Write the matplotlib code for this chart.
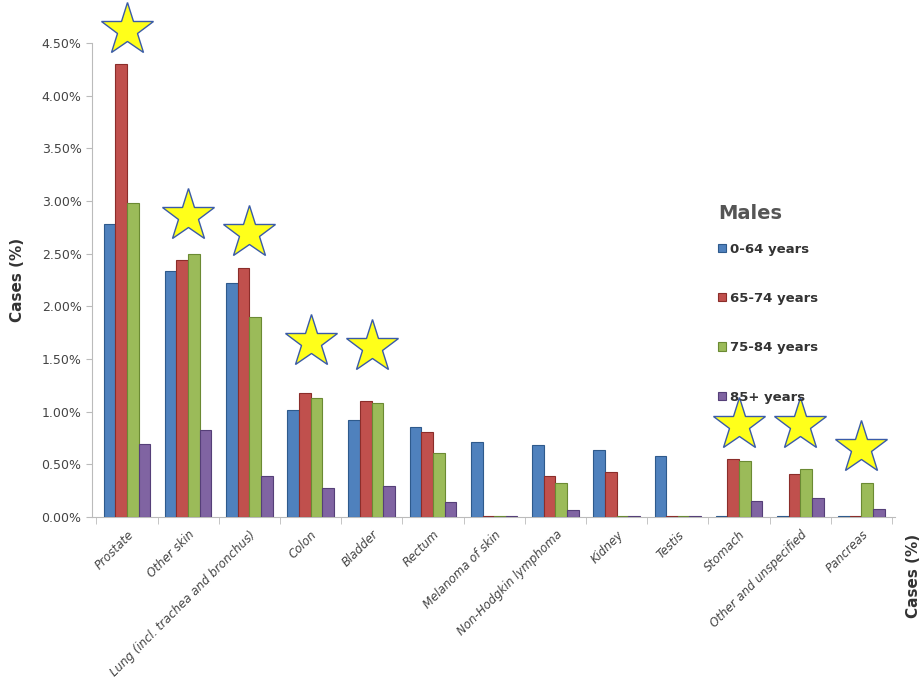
import matplotlib
matplotlib.use("Agg")
import matplotlib.pyplot as plt
import numpy as np
from matplotlib.ticker import FuncFormatter

# values (% of cases)
sites = ["Prostate", "Other skin", "Lung (incl. trachea and bronchus)", "Colon",
         "Bladder", "Rectum", "Melanoma of skin", "Non-Hodgkin lymphoma",
         "Kidney", "Testis", "Stomach", "Other and unspecified", "Pancreas"]
age_0_64 = [2.78, 2.34, 2.22, 1.02, 0.92, 0.85, 0.71, 0.68, 0.64, 0.58, 0.00, 0.00, 0.00]
age_65_74 = [4.30, 2.44, 2.36, 1.18, 1.10, 0.81, 0.00, 0.39, 0.43, 0.00, 0.55, 0.41, 0.00]
age_75_84 = [2.98, 2.50, 1.90, 1.13, 1.08, 0.61, 0.00, 0.32, 0.00, 0.00, 0.53, 0.46, 0.32]
age_85_up = [0.69, 0.83, 0.39, 0.28, 0.29, 0.14, 0.00, 0.07, 0.00, 0.00, 0.15, 0.18, 0.08]
series_labels = ["0-64 years", "65-74 years", "75-84 years", "85+ years"]

# stars mark the highlighted sites (index, level in %)
star_sites = [0, 1, 2, 3, 4, 10, 11, 12]
star_levels = [4.62, 2.86, 2.70, 1.66, 1.61, 0.87, 0.87, 0.66]

colors = ["#4F81BD", "#C0504D", "#9BBB59", "#8064A2"]
edges = ["#2E5A8C", "#8B2D2A", "#6B8A33", "#553F78"]

fig = plt.figure(figsize=(9.2, 6.94), dpi=100)
ax = fig.add_axes([0.1, 0.255, 0.873, 0.683])

x = np.arange(len(sites))
w = 0.19
allvals = [age_0_64, age_65_74, age_75_84, age_85_up]
for i, vals in enumerate(allvals):
    h = np.maximum(np.array(vals), 0.012)  # zero bars shown as thin slabs
    ax.bar(x + (i - 1.5) * w, h, width=w, color=colors[i], edgecolor=edges[i],
           linewidth=0.8, label=series_labels[i], zorder=3)

# stars
sx = x[star_sites]
ax.plot(sx, star_levels, linestyle="none", marker="*", markersize=40,
        markerfacecolor="#FFFF1A", markeredgecolor="#3A5BA8", markeredgewidth=1.0,
        clip_on=False, zorder=5)

ax.set_ylim(0, 4.5)
ax.set_xlim(-0.57, 12.55)
ax.set_yticks(np.arange(0, 4.51, 0.5))
ax.yaxis.set_major_formatter(FuncFormatter(lambda v, p: f"{v:.2f}%"))
ax.tick_params(axis="y", labelsize=9, labelcolor="#444444", color="#BBBBBB", length=4)

ax.set_xticks(x)
ax.set_xticklabels(sites, rotation=45, ha="right", rotation_mode="anchor",
                   fontsize=8.5, style="italic", color="#444444")
ax.set_xticks(np.arange(-0.5, 12.6, 1), minor=True)
ax.tick_params(axis="x", which="major", length=0, pad=8)
ax.tick_params(axis="x", which="minor", length=5, color="#BBBBBB")

for s in ["top", "right"]:
    ax.spines[s].set_visible(False)
ax.spines["left"].set_color("#BBBBBB")
ax.spines["bottom"].set_color("#BBBBBB")

ax.set_ylabel("Cases (%)", fontsize=11, fontweight="bold", color="#333333", labelpad=12)
fig.text(0.993, 0.17, "Cases (%)", rotation=90, fontsize=11, fontweight="bold",
         color="#333333", ha="center", va="center")

leg = ax.legend(loc="upper left", bbox_to_anchor=(0.765, 0.685), frameon=False,
                title="Males", labelspacing=2.75, handlelength=0.6, handleheight=0.6,
                handletextpad=0.3, fontsize=9.5, alignment="left")
leg.get_title().set_fontsize(14)
leg.get_title().set_fontweight("bold")
leg.get_title().set_color("#555555")
leg._legend_box.sep = 14
for t in leg.get_texts():
    t.set_color("#333333")
    t.set_fontweight("bold")

fig.savefig("out.png", dpi=100)
